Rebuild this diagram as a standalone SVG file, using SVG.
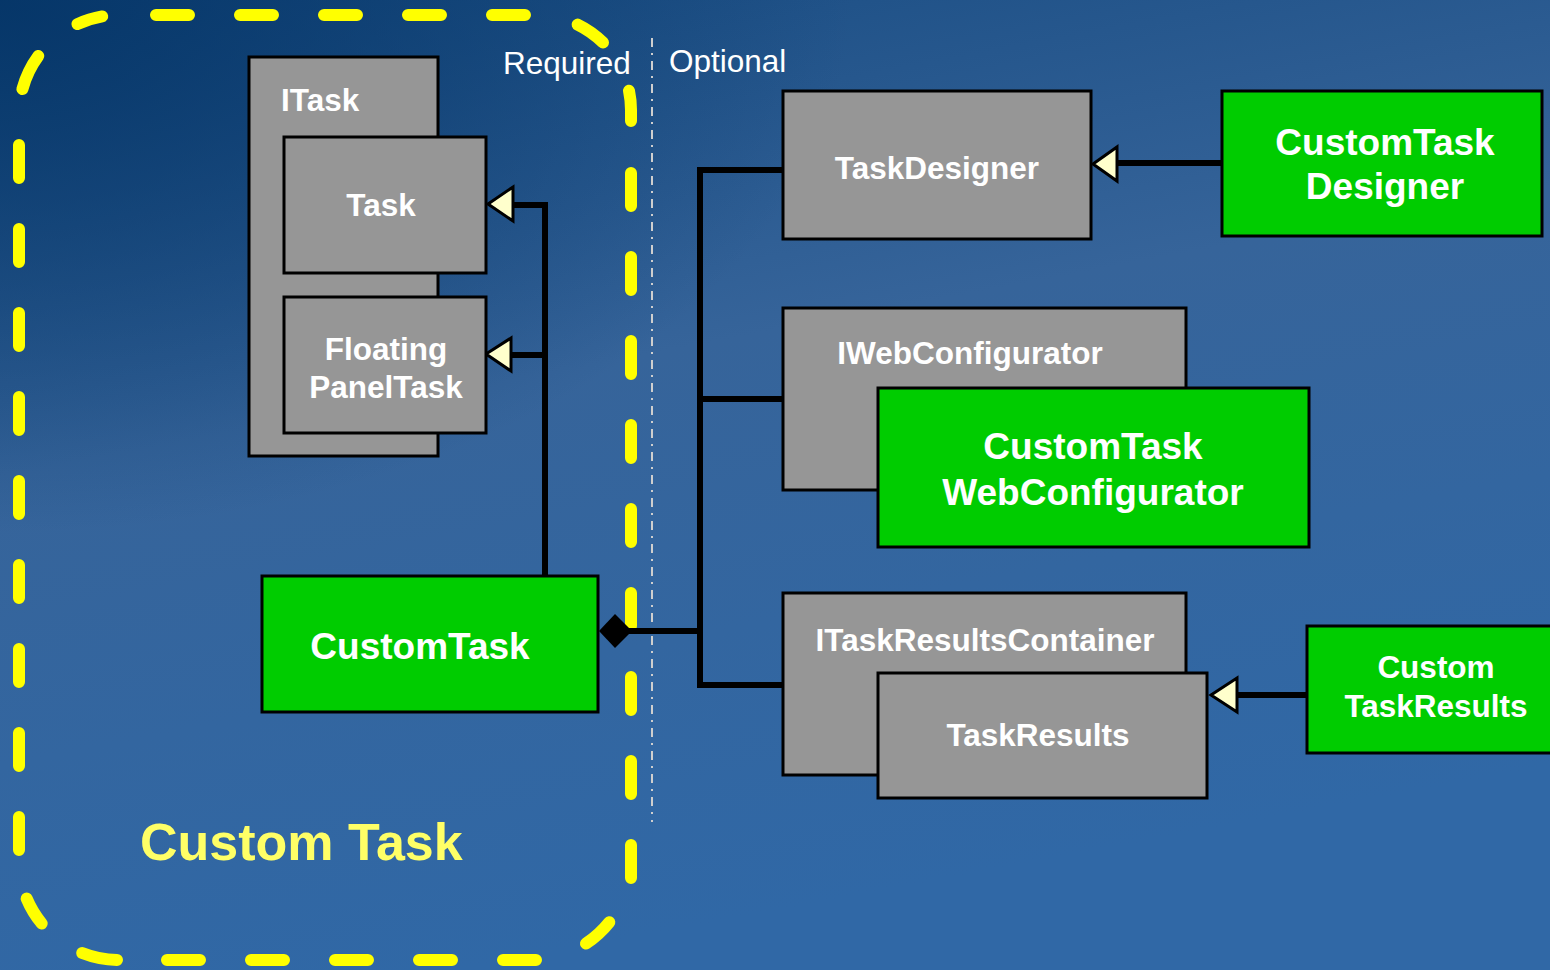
<svg xmlns="http://www.w3.org/2000/svg" width="1550" height="970" viewBox="0 0 1550 970">
<defs>
<linearGradient id="bg" x1="0" y1="0" x2="0.3" y2="1">
<stop offset="0" stop-color="#164a80"/>
<stop offset="0.45" stop-color="#36649a"/>
<stop offset="1" stop-color="#3068a6"/>
</linearGradient>
<radialGradient id="dark" cx="0" cy="0" r="0.55" gradientUnits="objectBoundingBox">
<stop offset="0" stop-color="#043466" stop-opacity="0.9"/>
<stop offset="1" stop-color="#043466" stop-opacity="0"/>
</radialGradient>
<style>
.gray{fill:#969696;stroke:#000;stroke-width:3}
.green{fill:#00cc00;stroke:#000;stroke-width:3}
.lbl{font-family:"Liberation Sans",Arial,sans-serif;font-weight:bold;fill:#fff;font-size:31.5px}
.big{font-size:37px}
.reg{font-family:"Liberation Sans",Arial,sans-serif;fill:#fff;font-size:31.5px}
.conn{fill:none;stroke:#000;stroke-width:6}
.tri{fill:#ffffcc;stroke:#000;stroke-width:3}
.yd{fill:none;stroke:#ffff00;stroke-width:12;stroke-linecap:round}
.ys{stroke-dasharray:33 51}
</style>
</defs>
<rect width="1550" height="970" fill="url(#bg)"/>
<rect width="1550" height="970" fill="url(#dark)"/>

<g id="boundary">
<path class="yd ys" d="M156,15 H526"/>
<path class="yd ys" d="M631,173 V878"/>
<path class="yd ys" d="M536,960 H167"/>
<path class="yd ys" d="M19,850 V139"/>
<path class="yd" d="M77.4,24.1 A100,100 0 0 1 102.2,16.4"/>
<path class="yd" d="M38.3,56 A100,100 0 0 0 22.4,89.1"/>
<path class="yd" d="M577.6,24.6 A95,95 0 0 1 603,42.6"/>
<path class="yd" d="M629,90.7 A95,95 0 0 1 631,110 L631,121"/>
<path class="yd" d="M609.3,922.2 A100,100 0 0 1 586,943.5"/>
<path class="yd" d="M26.7,898.6 A100,100 0 0 0 41.7,923.5"/>
<path class="yd" d="M82.2,953 A100,100 0 0 0 117,960"/>
</g>
<line x1="652" y1="38" x2="652" y2="822" stroke="#cfcfcf" stroke-width="2" stroke-dasharray="9 6 2 6"/>
<text class="reg" x="503" y="74">Required</text>
<text class="reg" x="669" y="72">Optional</text>
<text x="140" y="860" font-family="'Liberation Sans',Arial,sans-serif" font-weight="bold" font-size="52" fill="#ffff66">Custom Task</text>

<g id="connectors">
<polyline class="conn" points="510,205 545,205 545,577"/>
<line class="conn" x1="508" y1="355" x2="545" y2="355"/>
<polygon class="tri" points="488,204 513,187 513,221"/>
<polygon class="tri" points="486,354 511,338 511,371"/>
<polyline class="conn" points="783,170 700,170 700,685 783,685"/>
<line class="conn" x1="700" y1="399" x2="783" y2="399"/>
<line class="conn" x1="628" y1="631" x2="700" y2="631"/>
<polygon points="599,631 615,614 632,631 615,648" fill="#000"/>
<line class="conn" x1="1114" y1="163" x2="1222" y2="163"/>
<polygon class="tri" points="1093,164 1117,147 1117,181"/>
<line class="conn" x1="1234" y1="695" x2="1307" y2="695"/>
<polygon class="tri" points="1211,695 1237,678 1237,712"/>
</g>

<g id="itask">
<rect class="gray" x="249" y="57" width="189" height="399"/>
<text class="lbl" x="281" y="111">ITask</text>
</g>
<g id="task">
<rect class="gray" x="284" y="137" width="202" height="136"/>
<text class="lbl" x="381" y="216" text-anchor="middle">Task</text>
</g>
<g id="floatingpaneltask">
<rect class="gray" x="284" y="297" width="202" height="136"/>
<text class="lbl" x="386" y="360" text-anchor="middle">Floating</text>
<text class="lbl" x="386" y="398" text-anchor="middle">PanelTask</text>
</g>
<g id="customtask">
<rect class="green" x="262" y="576" width="336" height="136"/>
<text class="lbl big" x="420" y="659" text-anchor="middle">CustomTask</text>
</g>
<g id="taskdesigner">
<rect class="gray" x="783" y="91" width="308" height="148"/>
<text class="lbl" x="937" y="179" text-anchor="middle">TaskDesigner</text>
</g>
<g id="customtaskdesigner">
<rect class="green" x="1222" y="91" width="320" height="145"/>
<text class="lbl big" x="1385" y="155" text-anchor="middle">CustomTask</text>
<text class="lbl big" x="1385" y="199" text-anchor="middle">Designer</text>
</g>
<g id="iwebconfigurator">
<rect class="gray" x="783" y="308" width="403" height="182"/>
<text class="lbl" x="970" y="364" text-anchor="middle">IWebConfigurator</text>
</g>
<g id="customtaskwebconfigurator">
<rect class="green" x="878" y="388" width="431" height="159"/>
<text class="lbl big" x="1093" y="459" text-anchor="middle">CustomTask</text>
<text class="lbl big" x="1093" y="505" text-anchor="middle">WebConfigurator</text>
</g>
<g id="itaskresultscontainer">
<rect class="gray" x="783" y="593" width="403" height="182"/>
<text class="lbl" x="985" y="651" text-anchor="middle">ITaskResultsContainer</text>
</g>
<g id="taskresults">
<rect class="gray" x="878" y="673" width="329" height="125"/>
<text class="lbl" x="1038" y="746" text-anchor="middle">TaskResults</text>
</g>
<g id="customtaskresults">
<rect class="green" x="1307" y="626" width="250" height="127"/>
<text class="lbl" x="1436" y="678" text-anchor="middle">Custom</text>
<text class="lbl" x="1436" y="717" text-anchor="middle">TaskResults</text>
</g>
</svg>
